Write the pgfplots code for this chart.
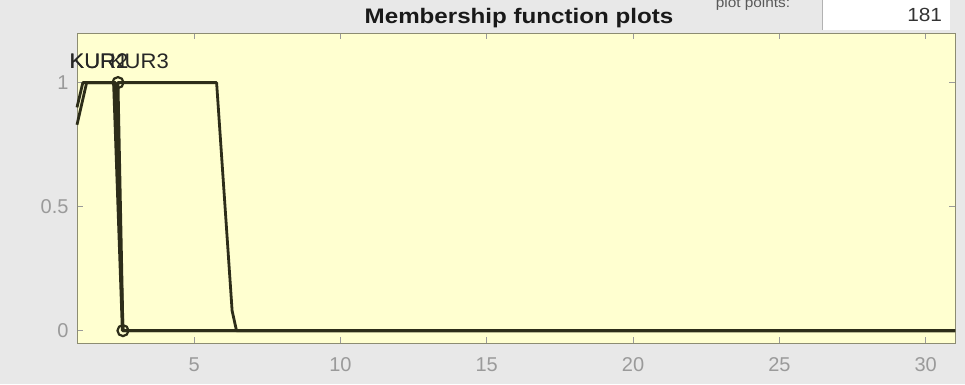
\documentclass[border=0pt]{standalone}
\usepackage{pgfplots}
\pgfplotsset{compat=1.18}
\usepackage{fontspec}
\setmainfont{Liberation Sans}

\definecolor{figbg}{HTML}{E8E8E8}
\definecolor{axbg}{HTML}{FFFFD0}
\definecolor{mfline}{RGB}{45,45,25}
\definecolor{axframe}{HTML}{8C8C72}
\definecolor{ticklbl}{HTML}{9A9A9A}

\begin{document}
\begin{tikzpicture}[x=1pt,y=1pt]
  \useasboundingbox (0,0) rectangle (965,384);
  \clip (0,0) rectangle (965,384);
  \fill[figbg] (0,0) rectangle (965,384);

  % number-of-points field
  \node[anchor=center, text=black!65, font=\fontsize{14}{16}\selectfont, xscale=1.1] at (753,380) {plot points:};
  \fill[white] (822,354) rectangle (950,390);
  \draw[black!30, line width=0.8pt] (822,354) -- (822,390);
  \node[anchor=east, text=black!80, font=\fontsize{19}{22}\selectfont, xscale=1.1] at (946,369) {181};

  % panel title
  \node[anchor=center, font=\bfseries\fontsize{21}{24}\selectfont, text=black!90, xscale=1.15] at (519,366) {Membership function plots};

  \begin{axis}[
    at={(77pt,41pt)}, anchor=south west,
    scale only axis, width=878pt, height=310pt,
    xmin=1, xmax=31, ymin=-0.05, ymax=1.2,
    xtick={5,10,15,20,25,30}, ytick={0,0.5,1},
    axis background/.style={fill=axbg},
    axis line style={axframe, line width=1pt},
    tick align=inside, major tick length=6pt,
    tick style={ticklbl, line width=0.8pt},
    xtick pos=both, ytick pos=both,
    xticklabel pos=lower, yticklabel pos=left,
    /pgf/number format/assume math mode=true,
    ticklabel style={text=ticklbl, font=\fontsize{20}{23}\selectfont},
    xticklabel style={yshift=-11pt},
    yticklabel style={xshift=-5pt},
    clip=false,
  ]
    % KUR1
    \addplot[mfline, line width=2.8pt, line join=round] coordinates {
      (1,0.83) (1.33,1) (2.25,1) (2.55,0) (31,0)
    };
    % KUR2
    \addplot[mfline, line width=2.8pt, line join=round] coordinates {
      (1,0.9) (1.2,1) (2.32,1) (2.57,0) (31,0)
    };
    % KUR3 (selected: vertices marked)
    \addplot[mfline, line width=2.8pt, line join=round] coordinates {
      (2.57,0) (2.4,1) (5.77,1) (6.3,0.08) (6.45,0) (31,0)
    };
    \addplot[only marks, mark=o, mark size=5.5pt, mark options={mfline, line width=2.2pt}] coordinates {
      (2.4,1) (2.57,0)
    };

    \node[anchor=west, text=black!85, font=\fontsize{21}{24}\selectfont, xscale=1.05] at (axis cs:0.62,1.085) {KUR1};
    \node[anchor=west, text=black!85, font=\fontsize{21}{24}\selectfont, xscale=1.05] at (axis cs:0.62,1.085) {KUR2};
    \node[anchor=west, text=black!85, font=\fontsize{21}{24}\selectfont, xscale=1.05] at (axis cs:2.0,1.085) {KUR3};
  \end{axis}
\end{tikzpicture}
\end{document}
